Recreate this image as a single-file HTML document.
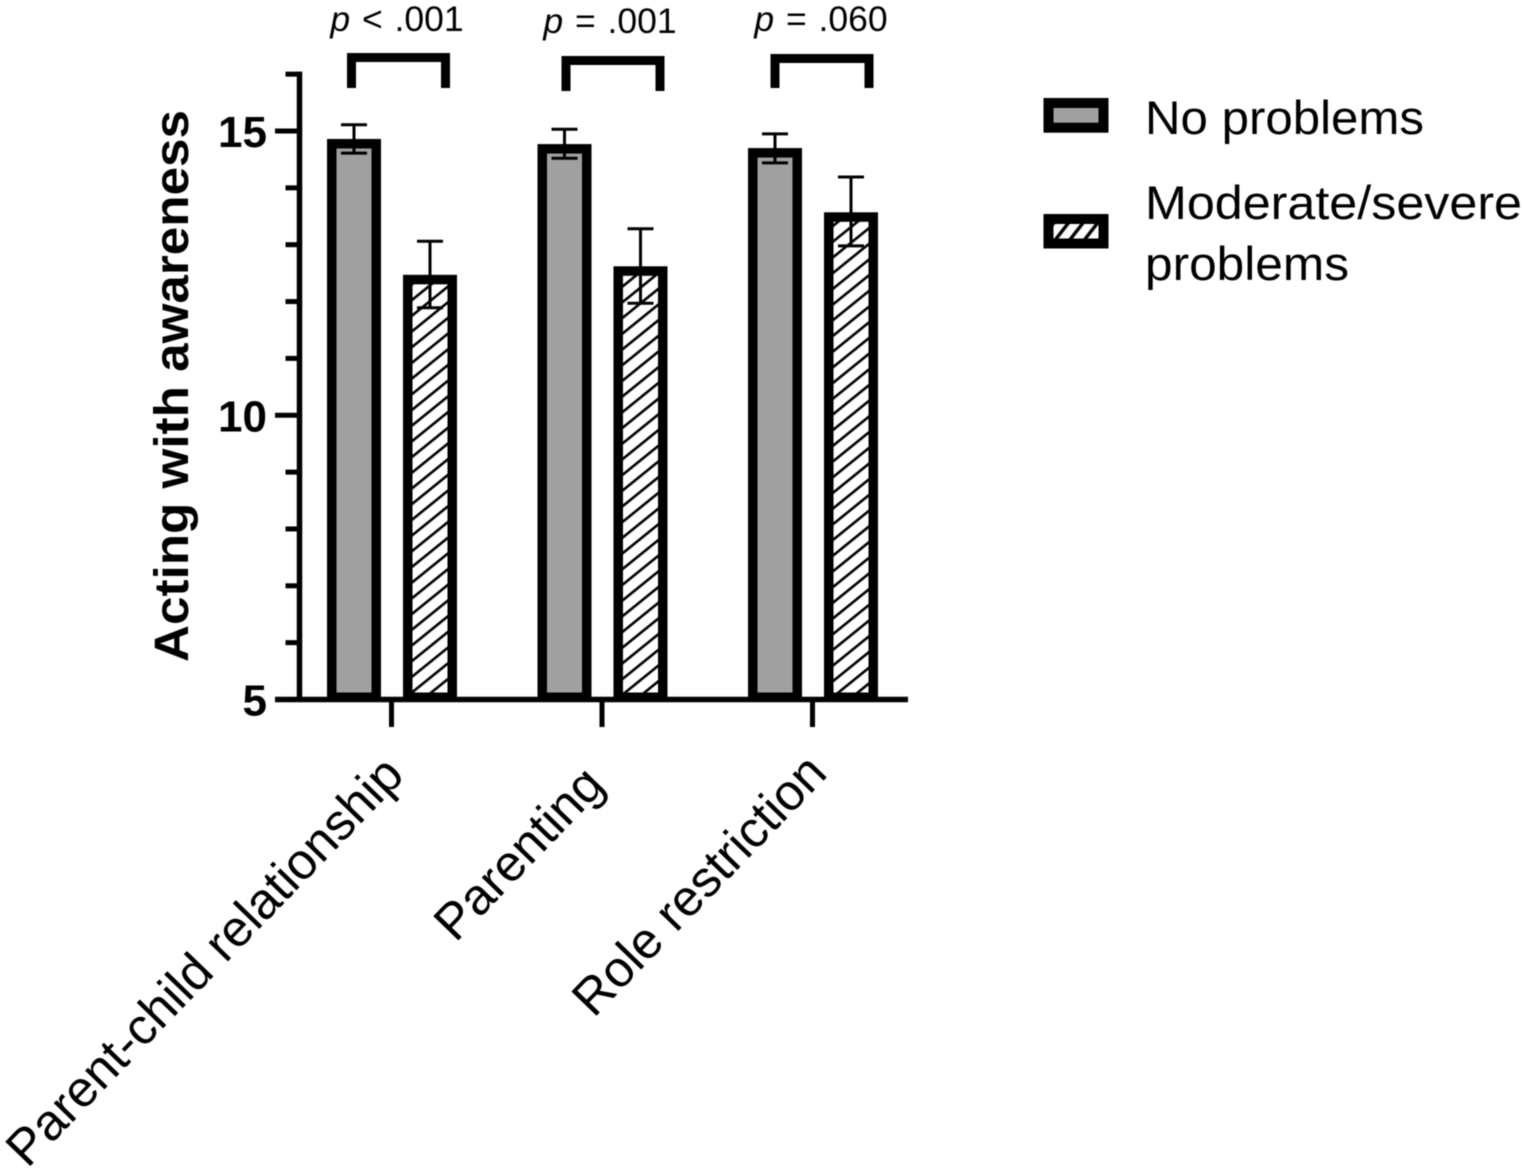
<!DOCTYPE html>
<html lang="en">
<head>
<meta charset="utf-8">
<title>Acting with awareness</title>
<style>
html,body{margin:0;padding:0;background:#fff;}
svg{display:block;font-family:"Liberation Sans",Arial,sans-serif;filter:blur(0.45px);}
</style>
</head>
<body>
<svg id="chart" xmlns="http://www.w3.org/2000/svg" width="1524" height="1169" viewBox="0 0 1524 1169">
<defs>
<pattern id="hatch" patternUnits="userSpaceOnUse" width="12.2" height="12.2" patternTransform="translate(0 4) rotate(-39)">
<rect width="12.2" height="12.2" fill="#fff"/>
<rect y="0" width="12.2" height="2.6" fill="#000"/>
</pattern>
<pattern id="legendHatch" patternUnits="userSpaceOnUse" width="11.5" height="11.5" patternTransform="rotate(-52)">
<rect width="11.5" height="11.5" fill="#fff"/>
<rect y="0" width="11.5" height="3.4" fill="#000"/>
</pattern>
</defs>
<g id="plot"></g>
<g>
<rect x="1048.5" y="103" width="55" height="24.7" fill="#a0a0a0" stroke="#000" stroke-width="10"/>
<text x="1145" y="134" font-size="47" textLength="279" lengthAdjust="spacingAndGlyphs">No problems</text>
<rect x="1048.5" y="219" width="55" height="24.5" fill="url(#legendHatch)" stroke="#000" stroke-width="10"/>
<text x="1145" y="219" font-size="47" textLength="377" lengthAdjust="spacingAndGlyphs">Moderate/severe</text>
<text x="1145" y="280" font-size="47" textLength="204" lengthAdjust="spacingAndGlyphs">problems</text>
</g>
<text transform="translate(188 662) rotate(-90)" font-size="48" font-weight="bold" textLength="552" lengthAdjust="spacingAndGlyphs">Acting with awareness</text>
</svg>
<script>
const categories = ["Parent-child relationship", "Parenting", "Role restriction"];
const noProblems = [14.86, 14.77, 14.70];
const moderateSevere = [12.47, 12.62, 13.57];
const noProblemsUpper = [15.11, 15.03, 14.95];
const noProblemsLower = [14.61, 14.52, 14.44];
const moderateSevereUpper = [13.06, 13.28, 14.19];
const moderateSevereLower = [11.89, 11.97, 12.98];
const pLabels = ["< .001", "= .001", "= .060"];
const yMajorTicks = [5, 10, 15];
const yMinorTicks = [6, 7, 8, 9, 11, 12, 13, 14, 16];

const NS = "http://www.w3.org/2000/svg";
const plot = document.getElementById("plot");

function yScale(v) { return 699.5 - (v - 5) * 56.85; }
function xScale(i) { return 391 + i * 210.5; }

function make(tag, attrs, parent) {
  const el = document.createElementNS(NS, tag);
  for (const k in attrs) el.setAttribute(k, attrs[k]);
  (parent || plot).appendChild(el);
  return el;
}

const BAR_W = 54;
const STROKE = 9.5;

function barCenterA(i) { return xScale(i) - 37; }
function barCenterB(i) { return xScale(i) + 39; }

function drawBar(cx, value, fill, name) {
  const top = yScale(value);
  const base = yScale(5);
  const bar = make("rect", {
    x: cx - BAR_W / 2 + STROKE / 2,
    y: top + STROKE / 2,
    width: BAR_W - STROKE,
    height: base - top - 7,
    fill: fill,
    stroke: "#000",
    "stroke-width": STROKE
  });
  
  
}

function drawError(cx, upper, lower, name) {
  const g = make("g", { stroke: "#000", "stroke-width": 3 });
  
  
  make("line", { x1: cx, x2: cx, y1: yScale(upper), y2: yScale(lower) }, g);
  make("line", { x1: cx - 13, x2: cx + 13, y1: yScale(upper), y2: yScale(upper) }, g);
  make("line", { x1: cx - 13, x2: cx + 13, y1: yScale(lower), y2: yScale(lower) }, g);
}

categories.forEach(function (cat, i) {
  const cx = xScale(i);
  const a = barCenterA(i);
  const b = barCenterB(i);
  drawBar(a, noProblems[i], "#a0a0a0", "bar-no-problems");
  drawBar(b, moderateSevere[i], "url(#hatch)", "bar-moderate-severe");
  drawError(a, noProblemsUpper[i], noProblemsLower[i], "error-bar-no-problems");
  drawError(b, moderateSevereUpper[i], moderateSevereLower[i], "error-bar-moderate-severe");

  const tick = make("line", { x1: cx + 0.5, x2: cx + 0.5, y1: yScale(5), y2: 727, stroke: "#000", "stroke-width": 5 });
  
  

  const labelDx = [15, 5, 17][i];
  const labelDy = [777, 787, 775][i];
  const label = make("text", {
    "text-anchor": "end",
    "font-size": 50.8,
    transform: "translate(" + (cx + labelDx) + " " + labelDy + ") rotate(-46)"
  });
  label.textContent = cat;
  
  

  const bracketMid = cx + [7.5, 11.5, 10][i];
  const bracketY = [57.5, 60.5, 58.5][i];
  const bracketEnd = [88, 91, 88][i];
  const bracket = make("path", {
    d: "M" + (bracketMid - 47) + " " + bracketEnd + "V" + bracketY + "H" + (bracketMid + 47) + "V" + bracketEnd,
    fill: "none",
    stroke: "#000",
    "stroke-width": 9
  });
  
  

  const p = make("text", { x: cx + [6, 8.5, 9][i], y: [31, 33, 31][i], "text-anchor": "middle", "font-size": 35.5, "word-spacing": 2 });
  const pi = make("tspan", { "font-style": "italic" }, p);
  pi.textContent = "p ";
  const pr = make("tspan", {}, p);
  pr.textContent = pLabels[i];
  
  
});

const yAxis = make("line", { x1: 299.5, x2: 299.5, y1: yScale(16) - 2.5, y2: yScale(5), stroke: "#000", "stroke-width": 5.5 });



const xAxis = make("line", { x1: 275, x2: 908, y1: yScale(5), y2: yScale(5), stroke: "#000", "stroke-width": 5.5 });



yMinorTicks.forEach(function (v) {
  const t = make("line", { x1: 285.5, x2: 299, y1: yScale(v), y2: yScale(v), stroke: "#000", "stroke-width": 5 });
  
  
});

yMajorTicks.forEach(function (v) {
  if (v !== 5) {
    const t = make("line", { x1: 275, x2: 299, y1: yScale(v), y2: yScale(v), stroke: "#000", "stroke-width": 5 });
    
    
  }
  const l = make("text", {
    x: 267,
    y: yScale(v) + 16,
    "text-anchor": "end",
    "font-size": 44,
    "font-weight": "bold"
  });
  l.textContent = String(v);
  
  
});
</script>
</body>
</html>
